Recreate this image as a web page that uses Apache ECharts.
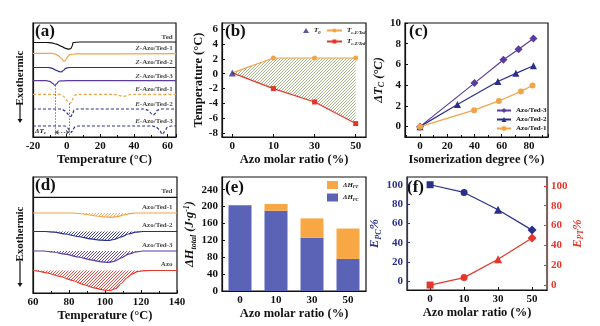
<!DOCTYPE html>
<html>
<head>
<meta charset="utf-8">
<script src="https://cdn.jsdelivr.net/npm/echarts@6/dist/echarts.min.js"></script>
<style>
  html, body { margin: 0; padding: 0; background: #fff; }
  #chart { width: 600px; height: 326px; }
</style>
</head>
<body>
<div id="chart"></div>
<script>
// ---------------- data ----------------
// (a) DSC traces: [temperature °C, depth of exotherm below the trace baseline (a.u.)]
const aNames = [['', 'Ted'], ['Z-', 'Azo/Ted-1'], ['Z-', 'Azo/Ted-2'], ['Z-', 'Azo/Ted-3'],
                ['E-', 'Azo/Ted-1'], ['E-', 'Azo/Ted-2'], ['E-', 'Azo/Ted-3']];
const aBaselines = [94.5, 83.7, 69.5, 56.3, 42.7, 28, 11];
const aTed = [[-20,0],[-12,0],[-9,0.3],[-6,1.6],[-3,3.8],[-1,5.6],[1,6.7],[2.5,6.2],[3.3,3.5],[3.8,0],[8,-0.5],[65,-0.5]];
const aZ1 = [[-20,0],[-9,0],[-7,0.5],[-5,2.4],[-3,5.2],[-1.6,8.2],[-0.6,7],[0.4,3.6],[2,1.3],[5,0.6],[65,0.4]];
const aZ2 = [[-20,0],[-11,0],[-8.5,0.8],[-6.5,2.6],[-4.5,4.1],[-3.3,4.4],[-2,3],[-0.6,0.8],[1.5,0],[65,0]];
const aZ3 = [[-20,0],[-12,0],[-10,0.7],[-8.5,2.4],[-7,4.6],[-6,3.2],[-5,1.1],[-4,0.2],[0,0],[65,0]];
const aE1 = [[-20,0],[-4,0],[-2,1.8],[0,5.8],[1.8,9.2],[2.8,8.4],[3.8,4],[5,0.6],[7,0],[28,0],[31,1],[33.5,2.2],[35.5,1.6],[37.5,0.3],[40,0],[65,0]];
const aE2 = [[-20,0],[-3,0],[-1,1.8],[1,5.4],[2.4,7.6],[3.4,5.2],[4.4,1.2],[6,0],[46,0],[48.5,1.2],[50.5,4.8],[51.5,6.2],[52.5,4.6],[54,1.2],[56,0],[65,0]];
const aE3 = [[-20,0],[-1,0],[0.5,1.8],[2,4.8],[2.8,6.4],[3.8,3.6],[5,0.6],[7,0],[51,0],[53,0.8],[55,3.4],[56.8,8.4],[58.2,5.6],[59.8,1.4],[62,0],[65,0]];
const aTraces = [aTed, aZ1, aZ2, aZ3, aE1, aE2, aE3];

// (b) transition temperatures vs Azo molar ratio
const bRatios = ['0', '10', '30', '50'];
const bT0 = [0.1];
const bTcE = [0.1, 2.1, 2.1, 2.1];
const bTcZ = [0.1, -2.0, -3.8, -6.7];

// (c) ΔTc vs isomerization degree
const cTed3 = [[0,0],[40,4.2],[61.3,6.45],[72.4,7.47],[83.3,8.51]];
const cTed2 = [[0,0],[27.5,2.13],[57.2,4.35],[70.4,5.14],[83.3,5.87]];
const cTed1 = [[0,0],[39.7,1.59],[57.9,2.48],[74.1,3.4],[82.6,3.97]];

// (d) DSC heating traces: [temperature °C, depth of exotherm (a.u.)]
const dNames = ['Ted', 'Azo/Ted-1', 'Azo/Ted-2', 'Azo/Ted-3', 'Azo'];
const dBaselines = [95.7, 80, 61.5, 42, 22.5];
const dTed = [[60,0],[140,0]];
const dA1 = [[60,0],[82,0],[86,0.5],[90,1.5],[95,3],[100,4],[104,4.3],[107,3.6],[110,2.1],[113,0.8],[117,0],[140,0]];
const dA2 = [[60,0],[67,0],[72,0.7],[78,2.5],[85,5],[92,7.4],[98,8.7],[102,9],[105,8],[109,5.5],[113,2.5],[117,0.7],[121,0],[140,0]];
const dA3 = [[60,0],[66,0],[71,1],[78,3.2],[85,6],[92,8.8],[98,10.8],[102,11.4],[105,10.4],[109,7],[113,3.2],[117,1],[121,0],[140,0]];
const dAzo = [[60,0],[62,0.3],[68,2.5],[75,6],[82,10],[88,14],[94,17.4],[99,19.5],[103,20],[106,18],[109,13],[112,7.5],[115,3.5],[118,1.2],[121,0.3],[125,0],[140,0]];
const dTraces = [dTed, dA1, dA2, dA3, dAzo];

// (e) enthalpy contributions (J/g)
const eRatios = ['0', '10', '30', '50'];
const eHpc = [203, 190, 126, 76];
const eHpt = [0, 16, 46, 72];

// (f) energy fractions (%)
const fRatios = ['0', '10', '30', '50'];
const fEpc = [100, 92, 74, 53];
const fEpt = [0, 7.5, 26, 47.5];

// ---------------- styles ----------------
const FONT = "'Liberation Serif','Times New Roman',Times,serif";
const ORANGE = '#f2a447', NAVY = '#2b2f8c', PURPLE = '#5a3c9e', RED = '#e2382c', BLACK = '#111';
const aColors = [BLACK, ORANGE, NAVY, PURPLE, ORANGE, NAVY, NAVY];
const aDashed = [false, false, false, false, true, true, true];
const dColors = [BLACK, ORANGE, NAVY, PURPLE, RED];

const tickLabel = { fontFamily: FONT, fontWeight: 'bold', fontSize: 11, color: BLACK, margin: 4 };
const nameStyle = { fontFamily: FONT, fontWeight: 'bold', fontSize: 12.5, color: BLACK };
const subRich = (color) => ({
  i: { fontFamily: FONT, fontWeight: 'bold', fontStyle: 'italic', fontSize: 12.5, color },
  s: { fontFamily: FONT, fontWeight: 'bold', fontStyle: 'italic', fontSize: 8, color, padding: [7, 0, 0, 0] },
  p: { fontFamily: FONT, fontWeight: 'bold', fontStyle: 'italic', fontSize: 8, color, padding: [0, 0, 6, 0] },
  n: { fontFamily: FONT, fontWeight: 'bold', fontStyle: 'italic', fontSize: 12.5, color }
});
const inTick = { show: true, inside: true, length: 3, lineStyle: { color: BLACK, width: 1 } };
const axLine = (color) => ({ show: true, onZero: false, lineStyle: { color: color || BLACK, width: 1.2 } });
const idxFmt = (cats) => (v) => (Math.abs(v - Math.round(v)) < 1e-6 && cats[Math.round(v)] !== undefined) ? cats[Math.round(v)] : '';

// Diagonal "/" hatching inside a closed pixel polygon (even-odd rule)
function hatchLines(pts, gap, color, width) {
  let lo = Infinity, hi = -Infinity;
  pts.forEach(p => { lo = Math.min(lo, p[0] + p[1]); hi = Math.max(hi, p[0] + p[1]); });
  const out = [];
  for (let c = Math.ceil(lo / gap) * gap; c <= hi; c += gap) {
    const xs = [];
    for (let i = 0; i < pts.length; i++) {
      const p = pts[i], q = pts[(i + 1) % pts.length];
      const fp = p[0] + p[1] - c, fq = q[0] + q[1] - c;
      if ((fp > 0) !== (fq > 0)) {
        const t = fp / (fp - fq);
        xs.push(p[0] + t * (q[0] - p[0]));
      }
    }
    xs.sort((a, b) => a - b);
    for (let k = 0; k + 1 < xs.length; k += 2) {
      out.push({
        type: 'line',
        shape: { x1: xs[k], y1: c - xs[k], x2: xs[k + 1], y2: c - xs[k + 1] },
        style: { stroke: color, lineWidth: width }
      });
    }
  }
  return { type: 'group', children: out };
}

const grids = [
  { left: 33, top: 23, width: 143, height: 114 },
  { left: 222, top: 23, width: 144, height: 114 },
  { left: 405, top: 23, width: 143, height: 114 },
  { left: 33, top: 177, width: 144, height: 116 },
  { left: 222, top: 177, width: 144, height: 114 },
  { left: 407, top: 177, width: 140, height: 113 }
].map(g => Object.assign({ show: true, borderColor: BLACK, borderWidth: 1.2, containLabel: false }, g));

function xVal(grid, min, max, step, name, extra) {
  return Object.assign({
    type: 'value', gridIndex: grid, min, max, minInterval: step, maxInterval: step,
    axisLine: axLine(), axisTick: inTick, splitLine: { show: false },
    axisLabel: Object.assign({ showMinLabel: false, showMaxLabel: false }, tickLabel),
    name, nameLocation: 'middle', nameGap: 13, nameTextStyle: nameStyle
  }, extra || {});
}

const xAxis = [
  xVal(0, -20, 65, 20, 'Temperature (°C)', {
    minInterval: null, maxInterval: null, interval: 20,
    axisLabel: Object.assign({ showMaxLabel: false }, tickLabel),
    minorTick: { show: true, splitNumber: 2, length: 2, lineStyle: { color: BLACK } }
  }),
  xVal(1, -0.25, 3.25, 1, 'Azo molar ratio (%)', {
    axisLabel: Object.assign({ showMinLabel: false, showMaxLabel: false, formatter: idxFmt(bRatios) }, tickLabel)
  }),
  xVal(2, -11, 94, 20, 'Isomerization degree (%)', {
    minorTick: { show: true, splitNumber: 2, length: 2, lineStyle: { color: BLACK } }
  }),
  xVal(3, 60, 140, 20, 'Temperature (°C)', {
    minInterval: null, maxInterval: null, interval: 20,
    axisLabel: Object.assign({}, tickLabel),
    minorTick: { show: true, splitNumber: 2, length: 2, lineStyle: { color: BLACK } }
  }),
  {
    type: 'category', gridIndex: 4, data: eRatios, boundaryGap: true,
    axisLine: axLine(), axisTick: Object.assign({ alignWithLabel: true }, inTick),
    axisLabel: tickLabel,
    name: 'Azo molar ratio (%)', nameLocation: 'middle', nameGap: 13, nameTextStyle: nameStyle
  },
  xVal(5, -0.68, 3.44, 1, 'Azo molar ratio (%)', {
    axisLabel: Object.assign({ showMinLabel: false, showMaxLabel: false, formatter: idxFmt(fRatios) }, tickLabel)
  })
];

function yVal(grid, min, max, step, extra) {
  return Object.assign({
    type: 'value', gridIndex: grid, min, max, minInterval: step, maxInterval: step,
    axisLine: axLine(), axisTick: inTick, splitLine: { show: false },
    axisLabel: Object.assign({ showMinLabel: false, showMaxLabel: false }, tickLabel),
    nameLocation: 'middle', nameRotate: 90, nameTextStyle: nameStyle
  }, extra || {});
}

const yAxis = [
  { type: 'value', gridIndex: 0, min: 0, max: 114, axisLine: axLine(), axisTick: { show: false }, axisLabel: { show: false }, splitLine: { show: false } },
  yVal(1, -8.5, 6.8, 2, { name: 'Temperature (°C)', nameGap: 13 }),
  yVal(2, -1, 10, 2, {
    axisLabel: Object.assign({ showMinLabel: false }, tickLabel),
    name: '{i|ΔT}{s|C}{n| (°C)}', nameGap: 15, nameTextStyle: { rich: subRich(BLACK) }
  }),
  { type: 'value', gridIndex: 3, min: 0, max: 116, axisLine: axLine(), axisTick: { show: false }, axisLabel: { show: false }, splitLine: { show: false } },
  {
    type: 'value', gridIndex: 4, min: 0, max: 270, interval: 40,
    axisLine: axLine(), axisTick: inTick, splitLine: { show: false },
    axisLabel: Object.assign({ showMaxLabel: false }, tickLabel),
    name: '{i|ΔH}{s|total}{n| (J·g}{p|-1}{n|)}', nameLocation: 'middle', nameRotate: 90, nameGap: 19,
    nameTextStyle: { rich: subRich(BLACK) }
  },
  yVal(5, -9, 108, 20, {
    axisLine: axLine(NAVY), axisTick: Object.assign({}, inTick, { lineStyle: { color: NAVY } }),
    axisLabel: Object.assign({ showMinLabel: false, showMaxLabel: false }, tickLabel, { color: NAVY }),
    name: '{i|E}{s|PC}{n|%}', nameGap: 15, nameTextStyle: { rich: subRich(NAVY) }
  }),
  yVal(5, -5, 109, 20, {
    position: 'right',
    axisLine: axLine(RED), axisTick: Object.assign({}, inTick, { lineStyle: { color: RED } }),
    axisLabel: Object.assign({ showMinLabel: false, showMaxLabel: false }, tickLabel, { color: RED }),
    name: '{i|E}{s|PT}{n|%}', nameGap: 19, nameTextStyle: { rich: subRich(RED) }
  })
];

const series = [];

// ---- (a) traces ----
aTraces.forEach((tr, k) => {
  series.push({
    type: 'line', name: 'a' + k, xAxisIndex: 0, yAxisIndex: 0, silent: true,
    data: tr.map(p => [p[0], aBaselines[k] - p[1]]),
    symbol: 'none', smooth: 0.25, smoothMonotone: 'x',
    lineStyle: { color: aColors[k], width: 1.2, type: aDashed[k] ? [3, 2] : 'solid' }
  });
});
// guide lines at the exotherm minima of Z-Azo/Ted-3 and E-Azo/Ted-1
function minPoint(tr, base) {
  let best = tr[0];
  tr.forEach(p => { if (p[1] > best[1]) best = p; });
  return [best[0], base - best[1]];
}
const gZ = minPoint(aZ3, aBaselines[3]);
const gE = minPoint(aE1, aBaselines[4]);
series[0].markLine = {
  silent: true, symbol: 'none', label: { show: false },
  lineStyle: { color: '#555', width: 0.8, type: [1.5, 1.5] },
  data: [
    [{ coord: [gZ[0], gZ[1]] }, { coord: [gZ[0], 0] }],
    [{ coord: [gE[0], gE[1]] }, { coord: [gE[0], 0] }],
    [{ coord: [gZ[0], 4.7], symbol: 'arrow', symbolSize: 4 }, { coord: [gE[0], 4.7], symbol: 'arrow', symbolSize: 4 }]
  ]
};
const curveLabelRich = {
  i: { fontFamily: FONT, fontWeight: 'bold', fontStyle: 'italic', fontSize: 7, color: BLACK },
  n: { fontFamily: FONT, fontWeight: 'bold', fontSize: 7, color: BLACK }
};
series.push({
  type: 'scatter', xAxisIndex: 0, yAxisIndex: 0, silent: true, symbolSize: 0,
  data: aBaselines.map(b => [63, b]),
  label: {
    show: true, position: 'left', distance: 0, offset: [0, -5], rich: curveLabelRich,
    formatter: (p) => (aNames[p.dataIndex][0] ? '{i|' + aNames[p.dataIndex][0] + '}' : '') + '{n|' + aNames[p.dataIndex][1] + '}'
  }
});

// ---- (b) ----
series.push({
  type: 'custom', xAxisIndex: 1, yAxisIndex: 1, silent: true, z: 1, data: [[0, 0]],
  renderItem: (params, api) => {
    const poly = bTcE.map((v, i) => api.coord([i, v]))
      .concat(bTcZ.map((v, i) => api.coord([i, v])).reverse());
    return hatchLines(poly, 3, '#7f9257', 0.7);
  }
});
series.push({
  type: 'line', name: 'TcE', xAxisIndex: 1, yAxisIndex: 1, z: 3,
  data: bTcE.map((v, i) => i === 0 ? { value: [i, v], symbol: 'none' } : [i, v]),
  symbol: 'circle', symbolSize: 5, itemStyle: { color: ORANGE }, lineStyle: { color: ORANGE, width: 1.2 }
});
series.push({
  type: 'line', name: 'TcZ', xAxisIndex: 1, yAxisIndex: 1, z: 3,
  data: bTcZ.map((v, i) => i === 0 ? { value: [i, v], symbol: 'none' } : [i, v]),
  symbol: 'rect', symbolSize: 5, itemStyle: { color: RED }, lineStyle: { color: RED, width: 1.2 }
});
series.push({
  type: 'scatter', name: 'T0', xAxisIndex: 1, yAxisIndex: 1, z: 4,
  data: bT0.map((v, i) => [i, v]), symbol: 'triangle', symbolSize: 7, itemStyle: { color: NAVY }
});

// ---- (c) ----
[['Azo/Ted-3', cTed3, PURPLE, 'diamond', 8], ['Azo/Ted-2', cTed2, NAVY, 'triangle', 7], ['Azo/Ted-1', cTed1, ORANGE, 'circle', 6]]
  .forEach(([name, d, col, sym, size]) => {
    series.push({
      type: 'line', name, xAxisIndex: 2, yAxisIndex: 2, data: d,
      symbol: sym, symbolSize: size, itemStyle: { color: col }, lineStyle: { color: col, width: 1.2 }
    });
  });

// ---- (d) ----
dTraces.forEach((tr, k) => {
  if (k > 0) {
    series.push({
      type: 'custom', xAxisIndex: 3, yAxisIndex: 3, silent: true, z: 1, data: [[100, dBaselines[k]]],
      renderItem: (params, api) => {
        const poly = tr.map(p => api.coord([p[0], dBaselines[k] - p[1]]));
        return hatchLines(poly, 3, dColors[k], 0.9);
      }
    });
  }
  series.push({
    type: 'line', name: 'd' + k, xAxisIndex: 3, yAxisIndex: 3, silent: true, z: 2,
    data: tr.map(p => [p[0], dBaselines[k] - p[1]]),
    symbol: 'none', smooth: 0.2, smoothMonotone: 'x',
    lineStyle: { color: dColors[k], width: 1.2 }
  });
});
series.push({
  type: 'scatter', xAxisIndex: 3, yAxisIndex: 3, silent: true, symbolSize: 0,
  data: dBaselines.map(b => [137.5, b]),
  label: {
    show: true, position: 'left', distance: 0, offset: [0, -6], rich: curveLabelRich,
    formatter: (p) => '{n|' + dNames[p.dataIndex] + '}'
  }
});

// ---- (e) ----
series.push({
  type: 'bar', name: 'PC', xAxisIndex: 4, yAxisIndex: 4, stack: 'H', barWidth: 23,
  data: eHpc, itemStyle: { color: '#5b63b6' }
});
series.push({
  type: 'bar', name: 'PT', xAxisIndex: 4, yAxisIndex: 4, stack: 'H', barWidth: 23,
  data: eHpt, itemStyle: { color: '#f7a845' }
});

// ---- (f) ----
const fShapes = ['rect', 'circle', 'triangle', 'diamond'];
const fSizes = [7, 7, 8, 9];
series.push({
  type: 'line', name: 'Epc', xAxisIndex: 5, yAxisIndex: 5,
  data: fEpc.map((v, i) => ({ value: [i, v], symbol: fShapes[i], symbolSize: fSizes[i] })),
  itemStyle: { color: NAVY }, lineStyle: { color: NAVY, width: 1.2 }
});
series.push({
  type: 'line', name: 'Ept', xAxisIndex: 5, yAxisIndex: 6,
  data: fEpt.map((v, i) => ({ value: [i, v], symbol: fShapes[i], symbolSize: fSizes[i] })),
  itemStyle: { color: RED }, lineStyle: { color: RED, width: 1.2 }
});

// ---------------- legends ----------------
const legRich = {
  i: { fontFamily: FONT, fontWeight: 'bold', fontStyle: 'italic', fontSize: 7, color: BLACK },
  s: { fontFamily: FONT, fontWeight: 'bold', fontStyle: 'italic', fontSize: 4.5, color: BLACK, padding: [4, 0, 0, 0] },
  n: { fontFamily: FONT, fontWeight: 'bold', fontSize: 7, color: BLACK }
};
const legendNames = {
  T0: '{i|T}{s|0}', TcE: '{i|T}{s|c-E/Ted}', TcZ: '{i|T}{s|c-Z/Ted}',
  PT: '{i|ΔH}{s|PT}', PC: '{i|ΔH}{s|PC}'
};
const legFmt = (n) => legendNames[n] || ('{n|' + n + '}');
const legBase = { orient: 'horizontal', selectedMode: false, padding: 0, formatter: legFmt, textStyle: { rich: legRich }, itemGap: 4 };
const legend = [
  Object.assign({}, legBase, { data: ['T0'], left: 303, top: 27, itemWidth: 6, itemHeight: 5 }),
  Object.assign({}, legBase, { data: ['TcE'], left: 326, top: 27, itemWidth: 15, itemHeight: 5 }),
  Object.assign({}, legBase, { data: ['TcZ'], left: 326, top: 38, itemWidth: 15, itemHeight: 5 }),
  Object.assign({}, legBase, { data: ['Azo/Ted-3', 'Azo/Ted-2', 'Azo/Ted-1'], orient: 'vertical', left: 496, top: 107, itemWidth: 14, itemHeight: 6, itemGap: 2 }),
  Object.assign({}, legBase, { data: ['PT', 'PC'], orient: 'vertical', left: 327, top: 181, itemWidth: 11, itemHeight: 8, itemGap: 4, icon: 'rect' })
];

// ---------------- panel letters and side annotations ----------------
const letter = (txt, x, y) => ({
  type: 'text', left: x, top: y,
  style: { text: txt, font: 'bold 17px ' + FONT, fill: BLACK }
});
const exoLabel = (cy, lineTop, lineBottom) => ([
  { type: 'text', x: 20, y: cy, rotation: Math.PI / 2,
    style: { text: 'Exothermic', font: 'bold 11px ' + FONT, fill: BLACK, align: 'center', verticalAlign: 'middle' } },
  { type: 'line', shape: { x1: 20, y1: lineTop, x2: 20, y2: lineBottom - 3 }, style: { stroke: BLACK, lineWidth: 1.2 } },
  { type: 'polygon', shape: { points: [[17.5, lineBottom - 4], [22.5, lineBottom - 4], [20, lineBottom]] }, style: { fill: BLACK } }
]);

const graphic = [
  letter('(a)', 35, 23), letter('(b)', 225, 23), letter('(c)', 409, 23),
  letter('(d)', 35, 177), letter('(e)', 225, 179), letter('(f)', 407, 179),
  ...exoLabel(78, 104, 123),
  ...exoLabel(234, 261, 287),
  { type: 'text', left: 35, top: 128,
    style: { rich: { i: { font: 'italic bold 7px ' + FONT, fill: BLACK }, s: { font: 'italic bold 5px ' + FONT, fill: BLACK, padding: [3, 0, 0, 0] } },
             text: '{i|ΔT}{s|c}' } }
];

const chart = echarts.init(document.getElementById('chart'), null, { renderer: 'canvas' });
chart.setOption({
  animation: false,
  backgroundColor: '#fff',
  grid: grids, xAxis, yAxis, series, legend, graphic
});
</script>
</body>
</html>
